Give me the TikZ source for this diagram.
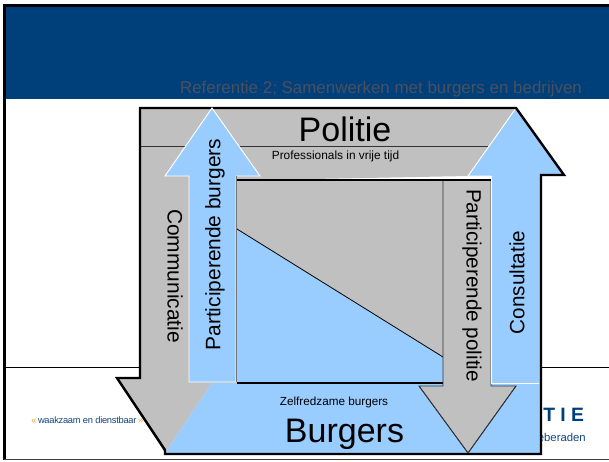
\documentclass[tikz,border=0pt]{standalone}
\usepackage{fontspec}
\setmainfont{Liberation Sans}
\definecolor{hdr}{RGB}{0,64,122}
\definecolor{hdrtxt}{RGB}{74,80,96}
\definecolor{gr}{RGB}{192,192,192}
\definecolor{bl}{RGB}{153,204,255}
\definecolor{lnk}{RGB}{20,70,130}
\definecolor{gold}{RGB}{235,170,30}
\tikzset{lab/.style={inner sep=0pt,text=black},
 outl/.style={draw=black,line width=1.8pt,line join=miter}}
\begin{document}
\begin{tikzpicture}[x=1pt,y=-1pt,scale=0.75]
\useasboundingbox (0,0) rectangle (609,461);
\fill[white] (0,0) rectangle (609,461);
\fill[hdr] (5,6) rectangle (609,99);
\draw[black,line width=1.9pt] (609,5.3) -- (4.5,5.3) -- (4.5,459.5);
\draw[black!75,line width=1pt] (4,459.7) -- (609,459.7);
\draw[black,line width=0.8pt] (5,367.5) -- (140,367.5) (541,367.5) -- (609,367.5);
\node[lab,text=hdrtxt,font=\fontsize{12.7pt}{14pt}\selectfont,anchor=base] (title) at (381,93.5) {Referentie 2; Samenwerken met burgers en bedrijven};
\node[lab,text=hdr,font=\bfseries\fontsize{14.5pt}{16pt}\selectfont,anchor=base west] (tie) at (543,421) {T I E};
\node[lab,text=lnk,font=\fontsize{8.5pt}{9pt}\selectfont,anchor=base east] (ber) at (586,441) {eberaden};
% gray frame
\fill[gr] (140,108) -- (516,108) -- (468,176) -- (260,180) -- (237,180) -- (237,383) -- (212,383) -- (165,453) -- (117,378) -- (140,378) -- cycle;
% bottom blue
\fill[bl] (165,453) -- (212,383) -- (541,383) -- (541,453) -- cycle;
% right blue arrow
\path[fill=bl] (516,108) -- (564,175) -- (541,175) -- (541,383) -- (491,383) -- (491,176) -- (468,176) -- cycle;
% centre
\fill[gr] (237,180) rectangle (443,382);
\fill[bl] (237,229) -- (443,357) -- (443,382) -- (237,382) -- cycle;
\draw[black,line width=0.6pt] (237,229) -- (443,357);
\draw[black!80,line width=0.8pt] (140,146.5) -- (488,146.5);
\draw[black,line width=1.5pt] (237,382.5) -- (443,382.5);
\draw[black!75,line width=0.7pt] (443,180) -- (443,386);
% right gray arrow
\path[fill=gr,draw=black!80,line width=0.6pt] (443,180) -- (491,180) -- (491,386) -- (516,386) -- (468,453) -- (419,386) -- (443,386) -- cycle;
\draw[white,line width=0.7pt] (491,383) -- (539,383);
\draw[white,line width=0.7pt] (491,176) -- (468,176) -- (516,108);
\draw[white,line width=0.7pt] (491,176) -- (491,383);
\draw[black,line width=1.4pt] (237,180) -- (491,180);
% outline
\draw[outl] (140,108) -- (140,378) -- (117,378) -- (165,450) -- (165,454) -- (541,454) -- (541,175) -- (564,175) -- (516,108) -- cycle;
\draw[black!80,line width=0.6pt] (516,386) -- (468,453) -- (419,386);
% left blue arrow
\path[fill=bl,draw=white,line width=0.7pt] (212,108) -- (260,176) -- (236,176) -- (236,382) -- (189,382) -- (189,176) -- (165,176) -- cycle;
\draw[black!55,line width=0.9pt] (236.5,176) -- (236.5,382);
% labels
\node[lab,text=lnk,font=\fontsize{7pt}{8pt}\selectfont\addfontfeature{LetterSpace=-3},anchor=base west] (motto) at (31,423) {\textcolor{gold}{«}\,waakzaam en dienstbaar\,\textcolor{gold}{»}};
\node[lab,font=\fontsize{25.5pt}{28pt}\selectfont] (pol) at (345,129) {Politie};
\node[lab,font=\fontsize{8.9pt}{10pt}\selectfont] (prof) at (335.5,156.5) {Professionals in vrije tijd};
\node[lab,font=\fontsize{8.8pt}{10pt}\selectfont] (zelf) at (334,402.5) {Zelfredzame burgers};
\node[lab,font=\fontsize{25.5pt}{28pt}\selectfont] (burg) at (344.5,434.5) {Burgers};
\node[lab,font=\fontsize{15.7pt}{18pt}\selectfont,rotate=-90] (comm) at (175,276) {Communicatie};
\node[lab,font=\fontsize{15.7pt}{18pt}\selectfont,rotate=90] (pb) at (215,244.5) {Participerende burgers};
\node[lab,font=\fontsize{15.5pt}{18pt}\selectfont,rotate=-90] (pp) at (472,285.5) {Participerende politie};
\node[lab,font=\fontsize{15.5pt}{18pt}\selectfont,rotate=90] (cons) at (517,282.5) {Consultatie};
\end{tikzpicture}
\end{document}
